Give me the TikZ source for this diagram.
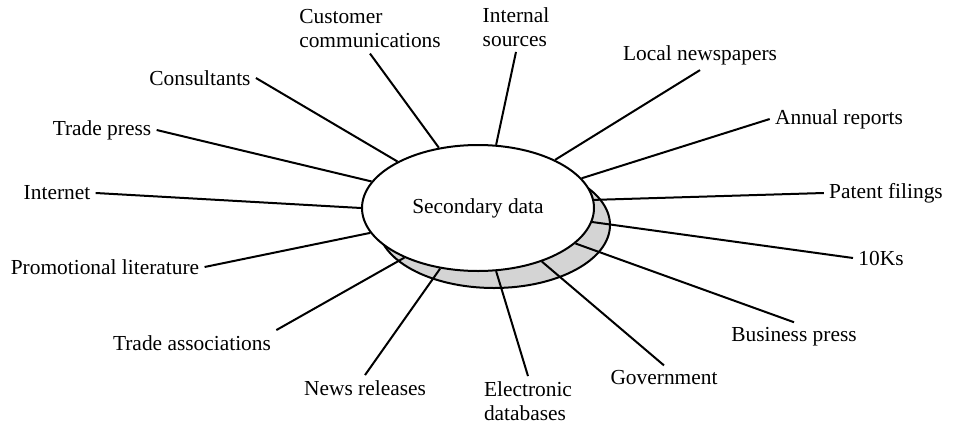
\documentclass[tikz,border=0pt]{standalone}
\usepackage{fontspec}
\setmainfont{Liberation Serif}
\usepackage{tikz}
\usetikzlibrary{shapes.geometric}
\definecolor{shadegray}{RGB}{212,212,212}
\newcommand{\lblfont}[0] {\fontsize{10.7}{12}\selectfont}
\tikzset{
  src/.style={inner sep=2.5pt, font=\lblfont},
  spoke/.style={-, line width=1pt},
  hub/.style={shape=ellipse, draw=black, line width=1pt, inner sep=0pt,
    minimum width=116pt, minimum height=63pt, font=\lblfont}
}

\begin{document}
\begin{tikzpicture}[x=0.5pt, y=-0.5pt]
        \useasboundingbox (0,0) rectangle (953,423);
        %shadow under the hub
        \node[hub, fill=shadegray] (shade) at (494,225) {};
        \node[hub, fill=white] (sd) at (478,208) {Secondary data};
        %labels on the upper side
        \node[src, align=left] (cust) at (370,29)  {Customer\\communications};
        \node[src, align=left] (intsrc) at (516,27) {Internal\\sources};
        \node[src] (cons) at (200,78)     {Consultants};
        \node[src] (tpress) at (102,130)  {Trade press};
        \node[src] (inet) at (57,193)     {Internet};
        \node[src] (localnp) at (700,55)  {Local newspapers};
        \node[src] (annual) at (839,119)  {Annual reports};
        \node[src] (patent) at (886,193)  {Patent filings};
        %labels on the lower side
        \node[src] (promo) at (105,267)   {Promotional literature};
        \node[src] (tassoc) at (192,343)  {Trade associations};
        \node[src] (news) at (365,388)    {News releases};
        \node[src, align=left] (edb) at (528,401) {Electronic\\databases};
        \node[src] (gov) at (664,378)     {Government};
        \node[src] (bpress) at (794,337)  {Business press};
        \node[src] (tenk) at (881,258)    {10Ks};
        %spokes of the upper side
        \path[spoke] (cust.south) edge (sd.123.9);
        \path[spoke] (intsrc.south) edge (sd.74.9);
        \path[spoke] (cons.east) edge (sd.150.4);
        \path[spoke] (tpress.east) edge (sd.166.7);
        \path[spoke] (inet.east) edge (sd.180);
        \path[spoke] (localnp.south) edge (sd.32.7);
        \path[spoke] (annual.west) edge (sd.16.9);
        \path[spoke] (patent.west) edge (sd.4);
        %spokes of the lower side
        \path[spoke] (promo.east) edge (sd.-167.3);
        \path[spoke] (tassoc.north east) edge (sd.-146.5);
        \path[spoke] (news.north) edge (sd.-122.4);
        \path[spoke] (edb.north) edge (sd.-74.5);
        \path[spoke] (gov.north) edge (sd.-40.2);
        \path[spoke] (bpress.north) edge (sd.-20.2);
        \path[spoke] (tenk.west) edge (sd.-7.9);
    \end{tikzpicture}
\end{document}
